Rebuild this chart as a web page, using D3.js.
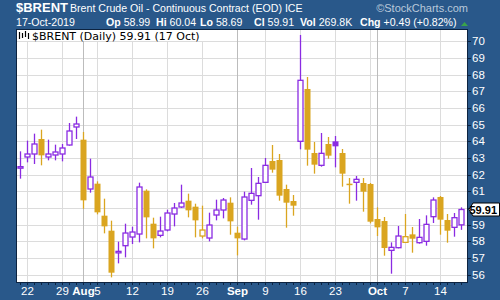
<!DOCTYPE html>
<html>
<head>
<meta charset="utf-8">
<script src="https://cdnjs.cloudflare.com/ajax/libs/d3/7.8.5/d3.min.js"></script>
<style>
  body { margin: 0; }
  svg { display: block; font-family: "Liberation Sans", Arial, sans-serif; }
</style>
</head>
<body>
<div id="chart"></div>
<script>

// daily bars, 19 Jul 2019 .. 17 Oct 2019 (trading days only)
var dates = [
  "2019-07-19",
  "2019-07-22","2019-07-23","2019-07-24","2019-07-25","2019-07-26",
  "2019-07-29","2019-07-30","2019-07-31","2019-08-01","2019-08-02",
  "2019-08-05","2019-08-06","2019-08-07","2019-08-08","2019-08-09",
  "2019-08-12","2019-08-13","2019-08-14","2019-08-15","2019-08-16",
  "2019-08-19","2019-08-20","2019-08-21","2019-08-22","2019-08-23",
  "2019-08-26","2019-08-27","2019-08-28","2019-08-29","2019-08-30",
  "2019-09-03","2019-09-04","2019-09-05","2019-09-06",
  "2019-09-09","2019-09-10","2019-09-11","2019-09-12","2019-09-13",
  "2019-09-16","2019-09-17","2019-09-18","2019-09-19","2019-09-20",
  "2019-09-23","2019-09-24","2019-09-25","2019-09-26","2019-09-27",
  "2019-09-30","2019-10-01","2019-10-02","2019-10-03","2019-10-04",
  "2019-10-07","2019-10-08","2019-10-09","2019-10-10","2019-10-11",
  "2019-10-14","2019-10-15","2019-10-16","2019-10-17"
];

var open = [
  62.45,
  63.06, 63.24, 64.14, 63.06, 63.18,
  63.24, 63.78, 64.86, 64.10, 61.14,
  61.46, 59.54, 58.64, 57.36, 57.74,
  58.26, 58.44, 61.04, 59.06, 58.36,
  58.68, 59.64, 60.06, 60.44, 60.08,
  58.32, 58.20, 59.58, 59.88, 60.32,
  58.52, 58.14, 60.46, 60.74,
  61.54, 62.82, 62.88, 61.14, 60.42,
  64.00, 67.14, 63.30, 62.56, 63.84,
  64.00, 63.30, 61.46, 61.54, 61.50,
  61.44, 59.34, 59.22, 57.46, 57.62,
  57.94, 58.42, 57.92, 58.00, 59.48,
  60.66, 59.28, 58.84, 58.99
];
var high = [
  63.40,
  64.04, 64.46, 64.70, 64.10, 63.80,
  63.84, 65.10, 65.48, 64.56, 62.96,
  61.60, 60.56, 59.24, 57.98, 59.06,
  58.88, 61.52, 61.12, 59.42, 59.48,
  59.90, 60.30, 61.40, 60.86, 60.26,
  60.14, 59.72, 60.50, 60.60, 60.64,
  58.88, 60.98, 62.40, 61.86,
  63.00, 63.78, 63.24, 61.40, 60.78,
  70.38, 67.86, 63.96, 64.50, 64.26,
  64.32, 63.54, 61.80, 61.92, 61.80,
  61.50, 60.04, 59.46, 57.94, 58.92,
  59.64, 58.86, 59.34, 59.56, 60.64,
  60.72, 59.64, 59.70, 60.04
];
var low = [
  61.76,
  62.74, 62.64, 62.56, 62.86, 62.86,
  62.80, 63.74, 64.14, 59.96, 60.92,
  59.62, 58.48, 55.84, 56.68, 57.04,
  57.84, 57.94, 58.18, 57.58, 58.24,
  58.60, 58.90, 60.00, 59.44, 58.24,
  58.18, 58.00, 59.26, 59.38, 58.40,
  57.16, 58.06, 60.20, 59.30,
  61.50, 62.12, 60.44, 58.82, 59.54,
  63.52, 62.54, 62.06, 62.48, 62.96,
  62.44, 61.28, 60.26, 60.44, 59.78,
  59.08, 58.32, 57.14, 56.06, 57.58,
  57.94, 57.32, 57.86, 57.74, 59.10,
  58.40, 57.92, 58.28, 58.69
];
var close = [
  62.48,
  63.24, 63.84, 63.16, 63.24, 63.36,
  63.60, 64.62, 65.04, 60.46, 61.86,
  59.74, 58.90, 56.12, 57.40, 58.50,
  58.56, 61.26, 59.44, 58.18, 58.62,
  59.70, 60.00, 60.30, 59.86, 59.26,
  58.68, 58.98, 59.88, 60.48, 59.20,
  58.18, 60.66, 60.88, 61.48,
  62.56, 62.30, 60.74, 60.32, 60.14,
  67.66, 63.50, 62.60, 63.28, 63.14,
  63.70, 62.06, 61.44, 61.72, 60.98,
  59.18, 58.84, 57.60, 57.64, 58.32,
  58.28, 58.16, 58.24, 59.02, 60.48,
  59.30, 58.64, 59.42, 59.91
];

var yTicks = [56, 57, 58, 59, 60, 61, 62, 63, 64, 65, 66, 67, 68, 69, 70];
var tickDates = ["2019-07-22","2019-07-29","2019-08-01","2019-08-05","2019-08-12",
  "2019-08-19","2019-08-26","2019-09-03","2019-09-09","2019-09-16","2019-09-23",
  "2019-10-01","2019-10-07","2019-10-14"];
var tickLabels = ["22","29","Aug","5","12","19","26","Sep","9","16","23","Oct","7","14"];

var W = 500, H = 300;
var pLeft = 16, pRight = 468, pTop = 29, pBottom = 283;
var bg = "#29588a", up = "#8a2be2", down = "#daa520";

var svg = d3.select("#chart").append("svg")
  .attr("width", W)
  .attr("height", H);

svg.append("rect").attr("width", W).attr("height", H).attr("fill", bg);
svg.append("rect")
  .attr("x", pLeft).attr("y", pTop)
  .attr("width", pRight - pLeft).attr("height", pBottom - pTop)
  .attr("fill", "#fff");

var x = d3.scalePoint().domain(dates).range([20, 461]);
var y = d3.scaleLinear().domain([56, 70]).range([274.7, 41.3]);

// grid
var grid = svg.append("g");
grid.selectAll(".hg")
  .data(yTicks)
  .enter().append("line")
  .attr("x1", pLeft).attr("x2", pRight)
  .attr("y1", function(d){ return Math.round(y(d)) + 0.5; })
  .attr("y2", function(d){ return Math.round(y(d)) + 0.5; })
  .attr("stroke", "#dcdcdc");

var weekStarts = dates.filter(function(d, i){
  return i > 0 && new Date(d).getUTCDay() < new Date(dates[i-1]).getUTCDay();
});
var monthStarts = dates.filter(function(d, i){
  return i > 0 && d.slice(5, 7) != dates[i-1].slice(5, 7);
});
grid.selectAll(".vg")
  .data(weekStarts)
  .enter().append("line")
  .attr("x1", function(d){ return x(d) + 0.5; })
  .attr("x2", function(d){ return x(d) + 0.5; })
  .attr("y1", pTop).attr("y2", pBottom)
  .attr("stroke", "#dcdcdc");
grid.selectAll(".mg")
  .data(monthStarts)
  .enter().append("line")
  .attr("x1", function(d){ return x(d) + 0.5; })
  .attr("x2", function(d){ return x(d) + 0.5; })
  .attr("y1", pTop).attr("y2", pBottom)
  .attr("stroke", "#bcbcbc");

// candles
var bars = dates.map(function(d, i){
  return {d: d, o: open[i], h: high[i], l: low[i], c: close[i],
          col: (i == 0 || close[i] >= close[i-1]) ? up : down,
          hollow: close[i] > open[i]};
});

var candle = svg.selectAll(".candle")
  .data(bars)
  .enter().append("g");

candle.append("line")
  .attr("x1", function(d){ return x(d.d) + 0.5; })
  .attr("x2", function(d){ return x(d.d) + 0.5; })
  .attr("y1", function(d){ return y(d.h); })
  .attr("y2", function(d){ return y(d.l); })
  .attr("stroke", function(d){ return d.col; })
  .attr("stroke-width", 1.3);

candle.append("rect")
  .attr("x", function(d){ return d.hollow ? x(d.d) - 2 : x(d.d) - 2.5; })
  .attr("width", function(d){ return d.hollow ? 5 : 6; })
  .attr("y", function(d){ return y(Math.max(d.o, d.c)); })
  .attr("height", function(d){ return Math.max(y(Math.min(d.o, d.c)) - y(Math.max(d.o, d.c)), 1.5); })
  .attr("fill", function(d){ return d.hollow ? "#fff" : d.col; })
  .attr("stroke", function(d){ return d.hollow ? d.col : "none"; })
  .attr("stroke-width", 1.3);

// legend
svg.append("rect")
  .attr("x", pLeft + 1).attr("y", pTop + 1)
  .attr("width", 186).attr("height", 11)
  .attr("fill", "#fff");
var icon = svg.append("g").attr("stroke", "#000").attr("stroke-width", 1.2);
[[19.5, 32, 39], [22.5, 33, 38], [25.5, 31, 37], [28.5, 33, 39]].forEach(function(p){
  icon.append("line").attr("x1", p[0]).attr("x2", p[0]).attr("y1", p[1]).attr("y2", p[2]);
});
svg.append("text")
  .attr("x", 32).attr("y", 39.5)
  .attr("font-family", "DejaVu Sans")
  .attr("font-size", "11px")
  .attr("fill", "#000")
  .text("$BRENT (Daily) 59.91 (17 Oct)");

// plot frame
svg.append("rect")
  .attr("x", pLeft + 0.5).attr("y", pTop + 0.5)
  .attr("width", pRight - pLeft - 1).attr("height", pBottom - pTop - 1)
  .attr("fill", "none")
  .attr("stroke", "#0c2340");

// bottom axis
svg.selectAll(".dt")
  .data(dates)
  .enter().append("line")
  .attr("x1", function(d){ return x(d) + 0.5; })
  .attr("x2", function(d){ return x(d) + 0.5; })
  .attr("y1", pBottom).attr("y2", pBottom + 2)
  .attr("stroke", "#0c2340");

svg.selectAll(".xl")
  .data(tickDates)
  .enter().append("text")
  .attr("x", function(d){ return x(d) + 0.5; })
  .attr("y", 295)
  .attr("text-anchor", "middle")
  .attr("font-size", "11.5px")
  .attr("font-weight", function(d, i){ return isNaN(+tickLabels[i]) ? "bold" : "normal"; })
  .attr("fill", "#fff")
  .text(function(d, i){ return tickLabels[i]; });

// right axis
var last = close[close.length - 1];
var ly = y(last);

svg.selectAll(".yt")
  .data(yTicks)
  .enter().append("line")
  .attr("x1", pRight).attr("x2", pRight + 3)
  .attr("y1", function(d){ return Math.round(y(d)) + 0.5; })
  .attr("y2", function(d){ return Math.round(y(d)) + 0.5; })
  .attr("stroke", "#0c2340");

svg.selectAll(".yl")
  .data(yTicks.filter(function(d){ return Math.abs(y(d) - ly) > 9; }))
  .enter().append("text")
  .attr("x", 472)
  .attr("y", function(d){ return y(d) + 4; })
  .attr("font-size", "11.5px")
  .attr("fill", "#fff")
  .text(function(d){ return d; });

// last price tag
svg.append("path")
  .attr("d", "M" + (pRight + 1) + "," + ly + " L" + (pRight + 5) + "," + (ly - 6.5) +
             " L499.5," + (ly - 6.5) + " L499.5," + (ly + 6.5) + " L" + (pRight + 5) + "," + (ly + 6.5) + " Z")
  .attr("fill", "#fff")
  .attr("stroke", "#000")
  .attr("stroke-width", 1);
svg.append("text")
  .attr("x", 497).attr("y", ly + 4)
  .attr("text-anchor", "end")
  .attr("font-size", "11px")
  .attr("font-weight", "bold")
  .attr("fill", "#000")
  .text(last.toFixed(2));

// header
svg.append("text")
  .attr("x", 16).attr("y", 12)
  .attr("font-size", "13px")
  .attr("font-weight", "bold")
  .attr("fill", "#fff")
  .text("$BRENT");
svg.append("text")
  .attr("x", 70).attr("y", 12)
  .attr("font-size", "10.6px")
  .attr("fill", "#fff")
  .text("Brent Crude Oil - Continuous Contract (EOD) ICE");
svg.append("text")
  .attr("x", 468).attr("y", 12)
  .attr("text-anchor", "end")
  .attr("font-size", "11px")
  .attr("fill", "#b9c9da")
  .text("\u00a9StockCharts.com");

svg.append("text")
  .attr("x", 16).attr("y", 26)
  .attr("font-size", "10.6px")
  .attr("fill", "#fff")
  .text("17-Oct-2019");

var quote = [[106, "Op", "58.99"], [156, "Hi", "60.04"], [200, "Lo", "58.69"],
             [254, "Cl", "59.91"], [300, "Vol", "269.8K"], [360, "Chg", "+0.49 (+0.82%)"]];
quote.forEach(function(q){
  var t = svg.append("text")
    .attr("x", q[0]).attr("y", 26)
    .attr("font-size", "10.6px")
    .attr("fill", "#fff");
  t.append("tspan").attr("font-weight", "bold").text(q[1]);
  t.append("tspan").text(" " + q[2]);
});
svg.append("path")
  .attr("d", "M461,26 L464.5,22 L468,26 Z")
  .attr("fill", "#3aa34a");

</script>
</body>
</html>
